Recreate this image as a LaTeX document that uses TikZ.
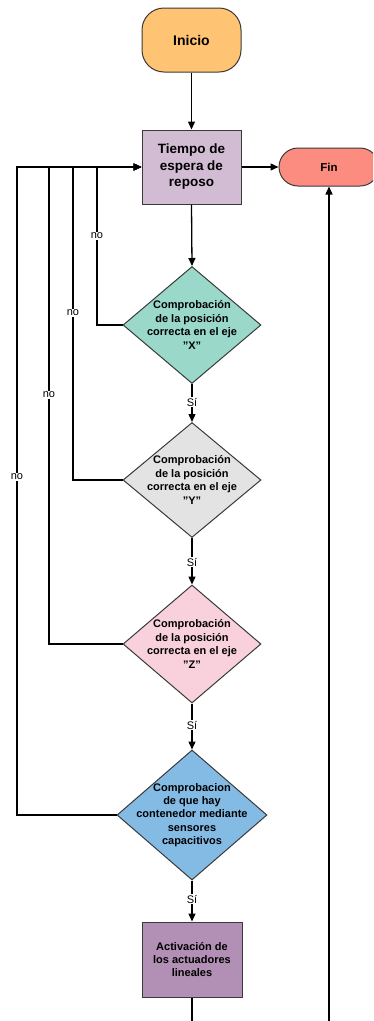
\documentclass[tikz,border=0pt]{standalone}
\usepackage{fontspec}
\setmainfont{Liberation Sans}
\usetikzlibrary{shapes.geometric,arrows.meta}
\definecolor{cInicio}{HTML}{FFC374}
\definecolor{cTiempo}{HTML}{D2BCD3}
\definecolor{cFin}{HTML}{FC8B80}
\definecolor{cX}{HTML}{9AD8CA}
\definecolor{cY}{HTML}{E3E3E3}
\definecolor{cZ}{HTML}{F8D1DC}
\definecolor{cCap}{HTML}{84BBE5}
\definecolor{cAct}{HTML}{B28FB4}
\definecolor{cBorder}{HTML}{3A3A3A}
\newcommand{\dq}{\symbol{34}}
\tikzset{
  x=1pt, y=-1pt,
  shapebox/.style={draw=cBorder, line width=1pt, inner sep=0pt, align=center},
  stadium/.style={shapebox, rectangle, rounded corners=#1},
  procbox/.style={shapebox, rectangle, minimum width=99pt, minimum height=74pt},
  decision/.style={draw=cBorder, line width=1pt, diamond, inner sep=0pt},
  dtext/.style={align=center, font=\fontsize{11}{13.4}\selectfont\bfseries, inner sep=0pt},
  conn/.style={line width=1.3pt, draw=black, -{Triangle[length=8pt,width=7pt]}},
  plain/.style={line width=1.3pt, draw=black},
  lbl/.style={fill=white, inner sep=1pt, font=\fontsize{11}{12}\selectfont},
}
\begin{document}
\begin{tikzpicture}
\useasboundingbox (0,0) rectangle (373,1021);
\clip (0,0) rectangle (373,1021);

\node[stadium=22pt, fill=cInicio, minimum width=99pt, minimum height=64pt,
      font=\fontsize{14}{16}\selectfont\bfseries] (inicio) at (191.5,40) {Inicio};
\node[procbox, fill=cTiempo, font=\fontsize{13.5}{16.5}\selectfont\bfseries]
      (tiempo) at (191.5,167) {Tiempo de\\espera de\\reposo};
\node[stadium=19pt, fill=cFin, minimum width=100pt, minimum height=38pt,
      font=\fontsize{11.5}{13}\selectfont\bfseries] (fin) at (329,167) {Fin};

\node[decision, fill=cX, minimum width=138pt, minimum height=117pt] (dx) at (192,325) {};
\node[dtext] (dxt) at (dx.center) {Comprobación\\de la posición\\correcta en el eje\\\dq X\dq};
\node[decision, fill=cY, minimum width=138pt, minimum height=115pt] (dy) at (192,480) {};
\node[dtext] (dyt) at (dy.center) {Comprobación\\de la posición\\correcta en el eje\\\dq Y\dq};
\node[decision, fill=cZ, minimum width=138pt, minimum height=118pt] (dz) at (192,644) {};
\node[dtext] (dzt) at (dz.center) {Comprobación\\de la posición\\correcta en el eje\\\dq Z\dq};
\node[decision, fill=cCap, minimum width=150pt, minimum height=130pt] (dc) at (192,815) {};
\node[dtext] (dct) at (dc.center) {Comprobacion\\de que hay\\contenedor mediante\\sensores\\capacitivos};

\node[procbox, fill=cAct, minimum width=100pt, minimum height=75pt,
      font=\fontsize{11}{13.3}\selectfont\bfseries] (act) at (192,959.5)
      {Activación de\\los actuadores\\lineales};

\coordinate (actend) at (192,1030);
\coordinate (finstart) at (329,1030);

% main flow
\draw[conn] (inicio.south) -- (tiempo.north);
\draw[conn] (tiempo.east) -- (fin.west);
\draw[conn] (tiempo.south) -- (dx.north);
\draw[conn] (dx.south) -- (dy.north);
\draw[conn] (dy.south) -- (dz.north);
\draw[conn] (dz.south) -- (dc.north);
\draw[conn] (dc.south) -- (act.north);
\draw[plain] (act.south) -- (actend);
\draw[conn] (finstart) -- (fin.south);

% loops
\draw[conn] (dx.west) -- (97,325) -- (97,167) -- (tiempo.west);
\draw[conn] (dy.west) -- (73,480) -- (73,167) -- (tiempo.west);
\draw[conn] (dz.west) -- (49,644) -- (49,167) -- (tiempo.west);
\draw[conn] (dc.west) -- (17,815) -- (17,167) -- (tiempo.west);

% labels
\node[lbl] (no1) at (97,236) {no};
\node[lbl] (no2) at (73,313) {no};
\node[lbl] (no3) at (49,395) {no};
\node[lbl] (no4) at (17,477) {no};
\node[lbl] (si1) at (192,402) {Sí};
\node[lbl] (si2) at (192,562) {Sí};
\node[lbl] (si3) at (192,725) {Sí};
\node[lbl] (si4) at (192,899) {Sí};
\end{tikzpicture}
\end{document}
